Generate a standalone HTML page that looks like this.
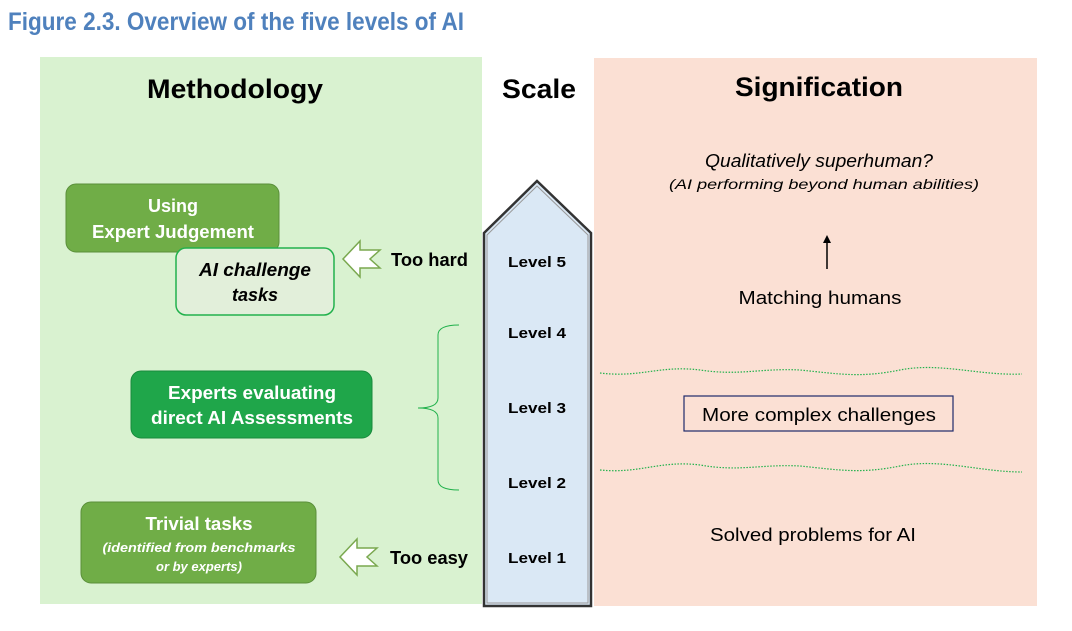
<!DOCTYPE html>
<html><head><meta charset="utf-8"><style>
html,body{margin:0;padding:0;background:#fff;}
svg{display:block;font-family:"Liberation Sans",sans-serif;}
</style></head><body>
<svg width="1072" height="631" viewBox="0 0 1072 631" xmlns="http://www.w3.org/2000/svg">
<text x="8" y="30" font-size="25" font-weight="bold" fill="#4f81bd" textLength="456" lengthAdjust="spacingAndGlyphs" font-family="Liberation Sans Narrow, Liberation Sans, sans-serif">Figure 2.3. Overview of the five levels of AI</text>
<rect x="40" y="57" width="442" height="547" fill="#d9f2d0"/>
<rect x="594" y="58" width="443" height="548" fill="#fbe0d4"/>
<text x="235" y="98" font-size="27" font-weight="bold" text-anchor="middle" textLength="176" lengthAdjust="spacingAndGlyphs">Methodology</text>
<text x="539" y="98" font-size="27" font-weight="bold" text-anchor="middle" textLength="74" lengthAdjust="spacingAndGlyphs">Scale</text>
<text x="819" y="96" font-size="27" font-weight="bold" text-anchor="middle" textLength="168" lengthAdjust="spacingAndGlyphs">Signification</text>
<polygon points="484,606 484,233 537,181 591,233 591,606" fill="#dae8f5" stroke="#333" stroke-width="2.5"/>
<polygon points="487,603 487,235 537,186 588,235 588,603" fill="none" stroke="#999" stroke-width="1"/>
<g font-size="15" font-weight="bold" text-anchor="middle">
<text x="537" y="267" textLength="58" lengthAdjust="spacingAndGlyphs">Level 5</text>
<text x="537" y="338" textLength="58" lengthAdjust="spacingAndGlyphs">Level 4</text>
<text x="537" y="413" textLength="58" lengthAdjust="spacingAndGlyphs">Level 3</text>
<text x="537" y="488" textLength="58" lengthAdjust="spacingAndGlyphs">Level 2</text>
<text x="537" y="563" textLength="58" lengthAdjust="spacingAndGlyphs">Level 1</text>
</g>
<rect x="66" y="184" width="213" height="68" rx="10" fill="#70ad47" stroke="#5a8f3a"/>
<text x="173" y="212" font-size="18" font-weight="bold" fill="#fff" text-anchor="middle">Using</text>
<text x="173" y="238" font-size="18" font-weight="bold" fill="#fff" text-anchor="middle" textLength="162" lengthAdjust="spacingAndGlyphs">Expert Judgement</text>
<rect x="176" y="248" width="158" height="67" rx="10" fill="#e2efda" stroke="#22b14c" stroke-width="1.5"/>
<text x="255" y="276" font-size="18" font-weight="bold" font-style="italic" text-anchor="middle" textLength="112" lengthAdjust="spacingAndGlyphs">AI challenge</text>
<text x="255" y="301" font-size="18" font-weight="bold" font-style="italic" text-anchor="middle">tasks</text>
<rect x="131" y="371" width="241" height="67" rx="10" fill="#1fa64a" stroke="#188a3c"/>
<text x="252" y="399" font-size="18" font-weight="bold" fill="#fff" text-anchor="middle" textLength="168" lengthAdjust="spacingAndGlyphs">Experts evaluating</text>
<text x="252" y="424" font-size="18" font-weight="bold" fill="#fff" text-anchor="middle" textLength="202" lengthAdjust="spacingAndGlyphs">direct AI Assessments</text>
<rect x="81" y="502" width="235" height="81" rx="10" fill="#70ad47" stroke="#5a8f3a"/>
<text x="199" y="530" font-size="18" font-weight="bold" fill="#fff" text-anchor="middle" textLength="107" lengthAdjust="spacingAndGlyphs">Trivial tasks</text>
<text x="199" y="552" font-size="13" font-weight="bold" font-style="italic" fill="#fff" text-anchor="middle" textLength="193" lengthAdjust="spacingAndGlyphs">(identified from benchmarks</text>
<text x="199" y="571" font-size="13" font-weight="bold" font-style="italic" fill="#fff" text-anchor="middle">or by experts)</text>
<polygon points="343,259 360,241 360,250 380,250 370,259 380,268 360,268 360,277" fill="#fff" stroke="#7aa84f" stroke-width="1.5"/>
<polygon points="340,557 357,539 357,548 377,548 367,557 377,566 357,566 357,575" fill="#fff" stroke="#7aa84f" stroke-width="1.5"/>
<text x="391" y="266" font-size="18" font-weight="bold" textLength="77" lengthAdjust="spacingAndGlyphs">Too hard</text>
<text x="390" y="564" font-size="18" font-weight="bold" textLength="78" lengthAdjust="spacingAndGlyphs">Too easy</text>
<path d="M459,325 Q438,325 438,335 L438,398 Q438,408 418,408 Q438,408 438,418 L438,480 Q438,490 459,490" fill="none" stroke="#22b14c" stroke-width="1"/>
<text x="819" y="167" font-size="18" font-style="italic" text-anchor="middle" textLength="228" lengthAdjust="spacingAndGlyphs">Qualitatively superhuman?</text>
<text x="824" y="189" font-size="14" font-style="italic" text-anchor="middle" textLength="310" lengthAdjust="spacingAndGlyphs">(AI performing beyond human abilities)</text>
<line x1="827" y1="269" x2="827" y2="240" stroke="#000" stroke-width="1.5"/>
<polygon points="827,235 823,243 831,243" fill="#000"/>
<text x="820" y="304" font-size="18" text-anchor="middle" textLength="163" lengthAdjust="spacingAndGlyphs">Matching humans</text>
<path d="M600,373 C640,378 660,365 700,370 C740,376 760,368 800,370 C840,374 860,378 900,370 C940,362 980,376 1022,374" fill="none" stroke="#22b14c" stroke-width="1.2" stroke-dasharray="1.5,1.5"/>
<path d="M600,470 C640,474 660,460 700,465 C740,472 760,464 800,466 C840,470 860,474 900,466 C940,458 980,472 1022,472" fill="none" stroke="#22b14c" stroke-width="1.2" stroke-dasharray="1.5,1.5"/>
<rect x="684" y="396" width="269" height="35" fill="#fbe0d4" stroke="#1f2a6b" stroke-width="1.2"/>
<text x="819" y="421" font-size="18" text-anchor="middle" textLength="234" lengthAdjust="spacingAndGlyphs">More complex challenges</text>
<text x="813" y="541" font-size="18" text-anchor="middle" textLength="206" lengthAdjust="spacingAndGlyphs">Solved problems for AI</text>
</svg>
</body></html>
